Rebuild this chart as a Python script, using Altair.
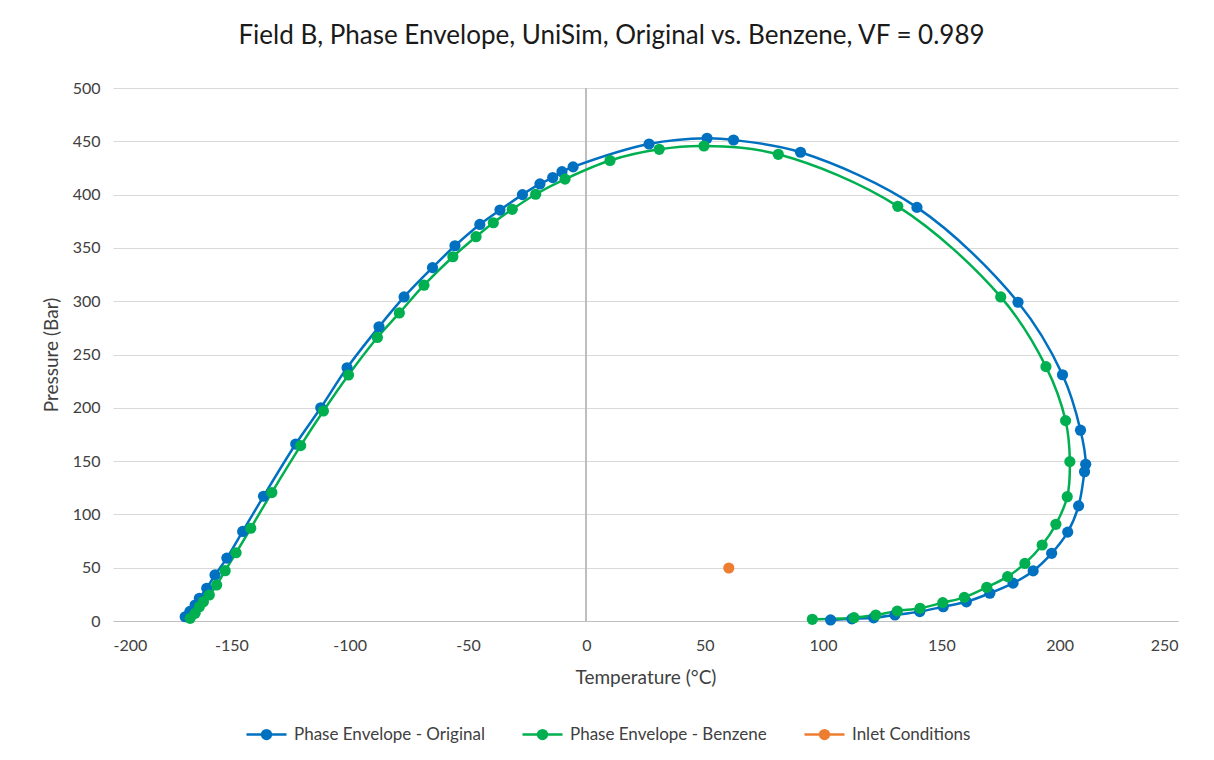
import altair as alt
import pandas as pd

# ---- data ----
orig_T = [-169.5, -167.5, -165.3, -163.5, -160.4, -156.9, -151.9, -145.2, -136.4, -122.8,
          -112.2, -101.1, -87.6, -77.0, -65.0, -55.5, -45.0, -36.5, -27.0, -19.6,
          -14.2, -10.3, -5.6, 26.5, 51.0, 62.2, 90.5, 139.7, 182.4, 201.2,
          208.8, 211.0, 210.5, 208.0, 203.4, 196.6, 188.8, 180.3, 170.5, 160.6,
          150.8, 140.9, 130.4, 121.4, 112.2, 103.2]
orig_P = [4.0, 9.0, 15.0, 21.3, 30.7, 43.2, 59.0, 84.0, 117.0, 166.0,
          200.0, 237.5, 276.0, 304.0, 331.5, 352.0, 372.0, 385.5, 400.0, 410.0,
          416.0, 421.5, 426.0, 447.5, 452.8, 451.2, 439.7, 388.0, 299.0, 231.0,
          179.0, 147.0, 140.0, 108.0, 83.4, 63.5, 47.0, 35.5, 26.0, 18.0,
          13.4, 8.8, 5.7, 3.0, 2.0, 1.0]

benz_T = [-167.4, -165.3, -163.5, -161.8, -159.3, -156.2, -152.6, -148.0, -141.8, -132.9,
          -120.7, -111.1, -100.5, -88.3, -79.0, -68.6, -56.4, -46.6, -39.3, -31.3,
          -21.4, -9.0, 10.0, 30.8, 49.7, 81.1, 131.6, 175.1, 194.2, 202.5,
          204.3, 203.2, 198.4, 192.6, 185.3, 178.0, 169.2, 159.7, 150.6, 141.0,
          131.4, 122.3, 113.1, 95.5]
benz_P = [2.5, 7.2, 13.4, 18.1, 24.4, 33.8, 47.2, 64.0, 87.0, 120.5,
          164.5, 197.0, 230.8, 266.0, 289.0, 315.0, 341.7, 360.5, 373.6, 386.2,
          400.3, 414.5, 432.0, 442.5, 445.6, 437.8, 389.0, 304.0, 238.6, 188.0,
          149.5, 116.6, 90.7, 71.3, 54.0, 41.6, 31.6, 22.2, 17.2, 11.9,
          9.4, 5.6, 3.1, 1.6]

inlet_T = [60.2]
inlet_P = [49.7]

series_names = ["Phase Envelope - Original", "Phase Envelope - Benzene", "Inlet Conditions"]
series_colors = ["#0070C0", "#00B050", "#ED7D31"]

x_ticks = list(range(-200, 251, 50))
y_ticks = list(range(0, 501, 50))

rows = []
for name, ts, ps in zip(series_names, [orig_T, benz_T, inlet_T], [orig_P, benz_P, inlet_P]):
    for i, (t, p) in enumerate(zip(ts, ps)):
        rows.append({"T": t, "P": p, "series": name, "idx": i})
df = pd.DataFrame(rows)

FONT = "Lato"
TXT = "#404040"

legend_symbol = ("M-1,0H1M-0.22,0A0.22,0.22,0,1,1,0.22,0A0.22,0.22,0,1,1,-0.22,0Z")

legend = alt.Legend(
    title=None, orient="none", direction="horizontal",
    legendX=132, legendY=625,
    symbolType=legend_symbol, symbolSize=1600, symbolStrokeWidth=2.5,
    labelFont=FONT, labelFontSize=17, labelColor=TXT, labelOffset=6, labelLimit=0,
    columnPadding=32,
)

x_enc = alt.X("T:Q", scale=alt.Scale(domain=[-200, 250], nice=False, zero=False),
              axis=alt.Axis(values=x_ticks, title="Temperature (°C)", labelPadding=16,
                            titlePadding=15, labelExpr="'' + datum.value"))
y_enc = alt.Y("P:Q", scale=alt.Scale(domain=[0, 500], nice=False),
              axis=alt.Axis(values=y_ticks, title="Pressure (Bar)", labelPadding=13,
                            titlePadding=11, domain=False))

color_scale = alt.Scale(domain=series_names, range=series_colors)

lines = alt.Chart(df).mark_line(strokeWidth=2.5, interpolate="catmull-rom").encode(
    x=x_enc, y=y_enc, order="idx:Q",
    stroke=alt.Stroke("series:N", scale=color_scale, legend=legend, sort=series_names),
    detail="series:N",
)
points = alt.Chart(df).mark_point(filled=True, size=125, opacity=1).encode(
    x=x_enc, y=y_enc,
    fill=alt.Fill("series:N", scale=color_scale, legend=legend, sort=series_names),
)
zero_rule = alt.Chart(df).mark_rule(color="#bfbfbf", strokeWidth=1).encode(x=alt.datum(0))

chart = alt.layer(zero_rule, lines, points).properties(
    width=1065, height=533,
    title=alt.TitleParams(
        "Field B, Phase Envelope, UniSim, Original vs. Benzene,  VF = 0.989",
        font=FONT, fontSize=26, fontWeight="normal", color="#1a1a1a",
        anchor="middle", dx=-34, offset=31,
    ),
    autosize=alt.AutoSizeParams(type="none"),
    padding={"left": 113, "top": 88, "right": 36, "bottom": 139},
).configure(background="white").configure_view(stroke=None).configure_axis(
    gridColor="#d9d9d9", gridWidth=1, ticks=False, domainColor="#bfbfbf",
    labelFont=FONT, labelFontSize=16, labelColor=TXT,
    titleFont=FONT, titleFontSize=19, titleFontWeight="normal", titleColor=TXT,
)

chart.save("out.html", embed_options={"renderer": "svg", "actions": False})
